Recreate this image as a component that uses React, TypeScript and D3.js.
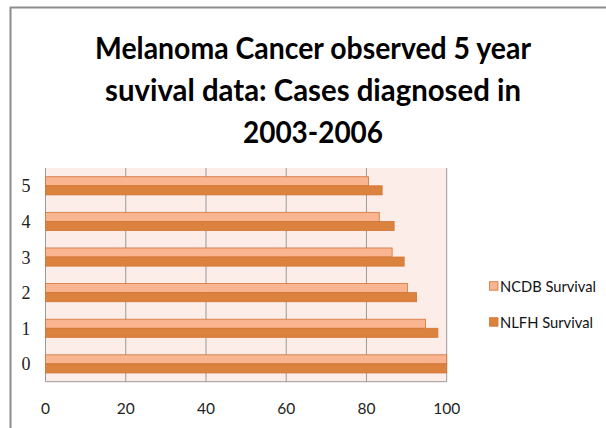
import React from "react";
import * as d3 from "d3";

const categories = ["0", "1", "2", "3", "4", "5"];
const ncdb = [100, 94.7, 90.2, 86.4, 83.2, 80.5];
const nlfh = [100, 97.8, 92.5, 89.4, 86.9, 83.9];
const xTicks = [0, 20, 40, 60, 80, 100];
const seriesNames = ["NCDB Survival", "NLFH Survival"];
const titleLines = [
  "Melanoma Cancer observed 5 year",
  "suvival data: Cases diagnosed in",
  "2003-2006",
];

const W = 606;
const H = 428;
const plot = { left: 45.5, right: 446.7, top: 168, bottom: 381.7 };
const colors = { light: "#F9B590", dark: "#DB833E", stroke: "#D27436", bg: "#FCEDE8", grid: "#9A9A9A" };

export default function App() {
  const x = d3.scaleLinear().domain([0, 100]).range([plot.left, plot.right]);
  const y = d3
    .scaleBand<string>()
    .domain([...categories].reverse())
    .range([plot.top, plot.bottom])
    .paddingInner(0.49)
    .paddingOuter(0.245);
  const bw = y.bandwidth() / 2;
  const font = "Lato, 'Open Sans', sans-serif";

  return (
    <svg width={W} height={H} style={{ position: "absolute", left: 0, top: 0 }}>
      <rect x={0} y={0} width={W} height={H} fill="#fff" />
      <line x1={10} x2={W} y1={7.5} y2={7.5} stroke="#8c8c8c" strokeWidth={2} />
      <line x1={10.5} x2={10.5} y1={7} y2={H} stroke="#8c8c8c" strokeWidth={2} />
      {titleLines.map((t, i) => (
        <text
          key={i}
          x={313}
          y={59 + i * 42}
          textAnchor="middle"
          fontFamily={font}
          fontWeight="bold"
          fontSize={30}
          fill="#000"
          textLength={i === 0 ? 436 : i === 1 ? 416 : 140}
          lengthAdjust="spacingAndGlyphs"
        >
          {t}
        </text>
      ))}
      <rect
        x={plot.left}
        y={plot.top}
        width={plot.right - plot.left}
        height={plot.bottom - plot.top}
        fill={colors.bg}
      />
      {xTicks.map((t) => (
        <line key={t} x1={x(t)} x2={x(t)} y1={plot.top} y2={plot.bottom} stroke={colors.grid} strokeWidth={1} />
      ))}
      <line x1={plot.left} x2={plot.right} y1={plot.bottom} y2={plot.bottom} stroke={colors.grid} strokeWidth={1} />
      {categories.map((c, i) => {
        const y0 = y(c)!;
        return (
          <g key={c}>
            <rect x={x(0)} y={y0} width={x(ncdb[i]) - x(0)} height={bw} fill={colors.light} stroke={colors.stroke} strokeWidth={0.8} />
            <rect x={x(0)} y={y0 + bw} width={x(nlfh[i]) - x(0)} height={bw} fill={colors.dark} stroke={colors.stroke} strokeWidth={0.8} />
          </g>
        );
      })}
      {categories.map((c) => (
        <text
          key={c}
          x={26}
          y={y(c)! + y.bandwidth() / 2 + 6.5}
          textAnchor="middle"
          fontFamily="'Liberation Serif', serif"
          fontSize={18}
          fill="#222"
        >
          {c}
        </text>
      ))}
      {xTicks.map((t) => (
        <text key={t} x={x(t)} y={413.5} textAnchor="middle" fontFamily={font} fontSize={15.5} fill="#222">
          {t}
        </text>
      ))}
      {seriesNames.map((s, i) => (
        <g key={s}>
          <rect
            x={489.5}
            y={281.7 + i * 36}
            width={8.5}
            height={8.5}
            fill={i === 0 ? colors.light : colors.dark}
            stroke={colors.stroke}
            strokeWidth={0.8}
          />
          <text
            x={500}
            y={291.5 + i * 36}
            fontFamily={font}
            fontSize={16}
            fill="#111"
            textLength={i === 0 ? 96 : 93}
            lengthAdjust="spacingAndGlyphs"
          >
            {s}
          </text>
        </g>
      ))}
    </svg>
  );
}
